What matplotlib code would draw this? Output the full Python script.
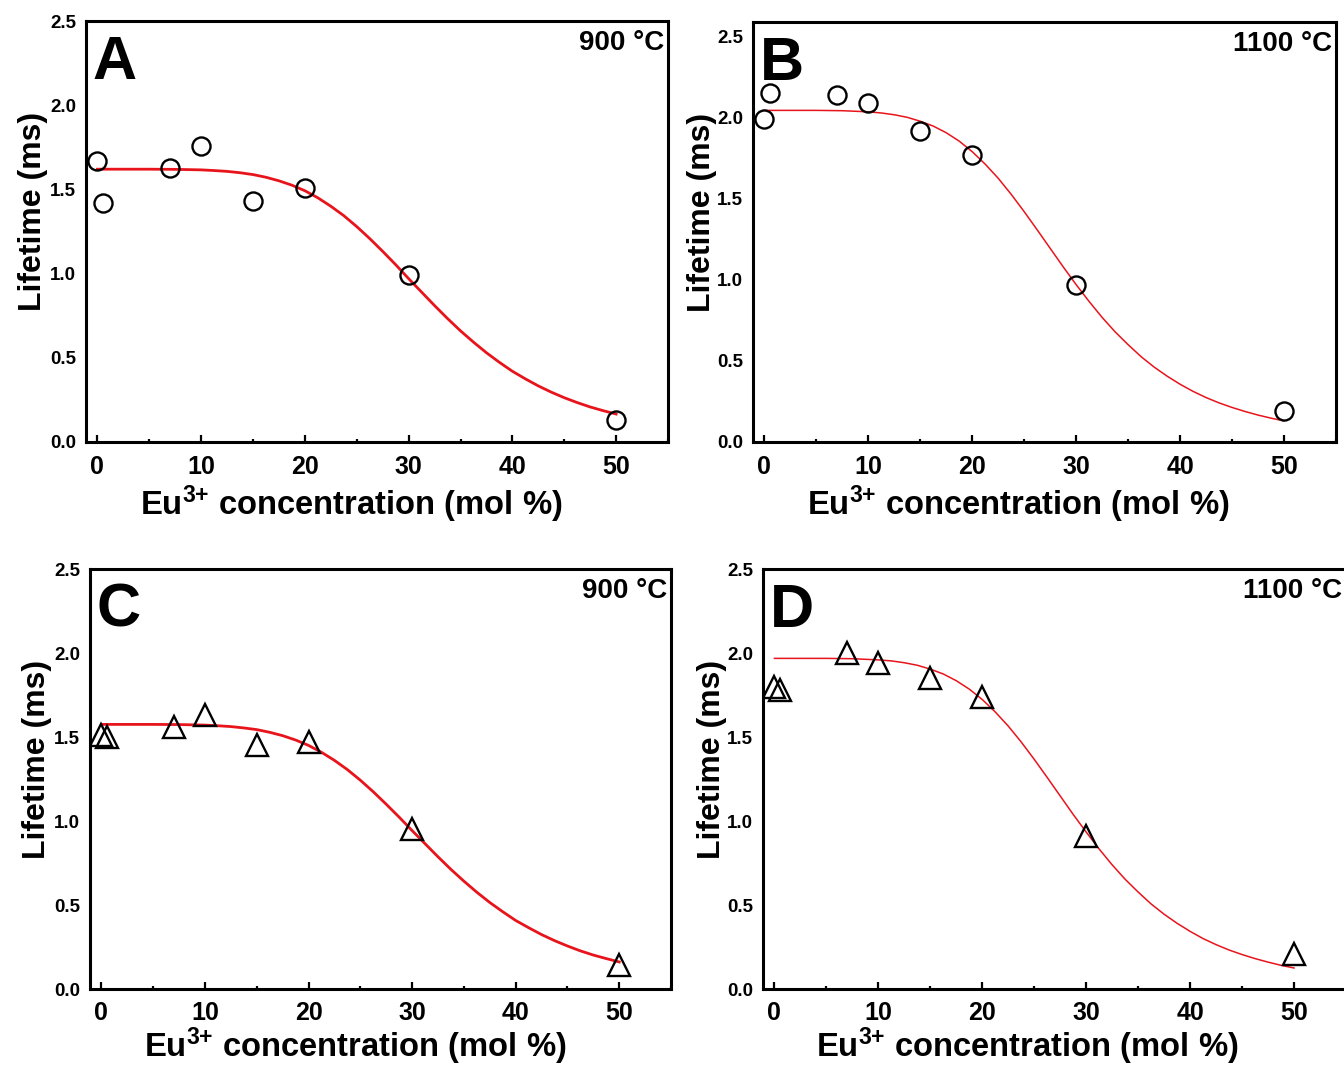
import matplotlib
matplotlib.use('Agg')
import matplotlib.pyplot as plt
from matplotlib.ticker import MultipleLocator

plt.rcParams['font.family'] = ['Liberation Sans', 'DejaVu Sans']
plt.rcParams['font.weight'] = 'bold'
plt.rcParams['mathtext.fontset'] = 'custom'
plt.rcParams['mathtext.rm'] = 'Liberation Sans:bold'
plt.rcParams['mathtext.it'] = 'Liberation Sans:bold'
plt.rcParams['mathtext.bf'] = 'Liberation Sans:bold'

# Eu3+ concentration (mol %) of the samples
conc = [0, 0.5, 7, 10, 15, 20, 30, 50]

# measured lifetimes (ms)
life_a = [1.67, 1.42, 1.63, 1.76, 1.43, 1.51, 0.99, 0.13]   # 900 C, circles
life_b = [1.99, 2.15, 2.14, 2.09, 1.92, 1.77, 0.97, 0.19]   # 1100 C, circles
life_c = [1.51, 1.50, 1.56, 1.63, 1.45, 1.47, 0.955, 0.14]  # 900 C, triangles
life_d = [1.80, 1.78, 2.00, 1.94, 1.85, 1.74, 0.91, 0.21]   # 1100 C, triangles

# fitted curves
fit_x = [0, 2.5, 5, 7.5, 10, 11.25, 12.5, 13.75, 15, 16.25, 17.5, 18.75, 20,
         21.25, 22.5, 23.75, 25, 26.25, 27.5, 28.75, 30, 31.25, 32.5, 33.75, 35,
         36.25, 37.5, 38.75, 40, 41.25, 42.5, 43.75, 45, 46.25, 47.5, 48.75, 50]
fit_a = [1.62, 1.62, 1.62, 1.619, 1.616, 1.612, 1.607, 1.599, 1.588, 1.572, 1.551,
         1.525, 1.492, 1.450, 1.400, 1.344, 1.279, 1.208, 1.132, 1.053, 0.970,
         0.890, 0.810, 0.733, 0.660, 0.593, 0.530, 0.473, 0.420, 0.375, 0.333,
         0.296, 0.263, 0.234, 0.208, 0.186, 0.166]
fit_b = [2.045, 2.045, 2.045, 2.043, 2.036, 2.029, 2.018, 2.002, 1.978, 1.948, 1.907,
         1.855, 1.790, 1.713, 1.626, 1.527, 1.420, 1.308, 1.194, 1.080, 0.970,
         0.866, 0.768, 0.679, 0.600, 0.526, 0.462, 0.406, 0.356, 0.312, 0.274,
         0.241, 0.213, 0.188, 0.166, 0.147, 0.130]
fit_c = [1.575, 1.575, 1.575, 1.574, 1.571, 1.567, 1.562, 1.554, 1.544, 1.528, 1.508,
         1.482, 1.450, 1.409, 1.361, 1.306, 1.243, 1.174, 1.100, 1.023, 0.943,
         0.865, 0.787, 0.712, 0.642, 0.576, 0.515, 0.460, 0.408, 0.365, 0.324,
         0.288, 0.256, 0.227, 0.202, 0.181, 0.161]
fit_d = [1.968, 1.968, 1.968, 1.966, 1.959, 1.953, 1.942, 1.927, 1.904, 1.875, 1.835,
         1.785, 1.723, 1.649, 1.565, 1.470, 1.367, 1.259, 1.149, 1.039, 0.934,
         0.833, 0.739, 0.653, 0.577, 0.506, 0.445, 0.391, 0.343, 0.300, 0.264,
         0.232, 0.205, 0.181, 0.160, 0.141, 0.125]

letters = ['A', 'B', 'C', 'D']
temps = ['900 °C', '1100 °C', '900 °C', '1100 °C']

W, H = 1344, 1068
fig = plt.figure(figsize=(W / 100, H / 100), dpi=100)
fig.patch.set_facecolor('white')

def box(l, t, r, b):
    # pixel box -> figure fraction
    return [l / W, 1 - b / H, (r - l) / W, (b - t) / H]

red = '#e8141c'
panels = [
    # axes box, data, fit, marker, marker size, fit lw, y top, ylabel x, xlabel x, label baseline y
    (box(86, 21, 668, 442), life_a, fit_a, 'o', 13, 2.0, 2.5, 41, 351, 515),
    (box(753, 22, 1336, 442), life_b, fit_b, 'o', 13, 1.1, 2.59, 710, 1018, 515),
    (box(90, 569, 671, 989), life_c, fit_c, '^', 16, 2.0, 2.5, 45, 355, 1057),
    (box(763, 569, 1346, 989), life_d, fit_d, '^', 16, 1.1, 2.5, 720, 1027, 1057),
]

for i, (pos, life, fit, mk, ms, flw, ytop, ylx, xlx, xly) in enumerate(panels):
    ax = fig.add_axes(pos)
    ax.plot(fit_x, fit, color=red, lw=flw, zorder=2, solid_joinstyle='round')
    ax.plot(conc, life, ls='none', marker=mk, ms=ms, mfc='none', mec='black',
            mew=1.7, zorder=3)
    ax.set_xlim(-1.1, 55)
    ax.set_ylim(0, ytop)
    ax.set_xticks([0, 10, 20, 30, 40, 50])
    ax.xaxis.set_minor_locator(MultipleLocator(5))
    ax.set_yticks([0, 0.5, 1.0, 1.5, 2.0, 2.5])
    ax.tick_params(axis='x', which='major', direction='in', length=5, width=1.6,
                   labelsize=18, pad=9)
    ax.tick_params(axis='x', which='minor', direction='in', length=2, width=1.6)
    ax.tick_params(axis='y', which='both', length=0, labelsize=13.5, pad=7)
    for s in ax.spines.values():
        s.set_linewidth(2.2)

    ax.text(0.012, 0.862, letters[i], transform=ax.transAxes, fontsize=44,
            fontweight='bold', ha='left', va='baseline')
    ax.text(0.993, 0.93, temps[i], transform=ax.transAxes, fontsize=20,
            fontweight='bold', ha='right', va='baseline')

    # axis titles placed by pixel
    yc = (pos[1] + pos[3] / 2) + 20 / H
    fig.text(ylx / W, yc, 'Lifetime (ms)', rotation=90, rotation_mode='anchor',
             ha='center', va='baseline', fontsize=23, fontweight='bold')
    fig.text(xlx / W, 1 - xly / H, 'Eu$^{3{+}}$ concentration (mol %)',
             ha='center', va='baseline', fontsize=23.6, fontweight='bold')

fig.savefig('out.png', dpi=100, facecolor='white')
